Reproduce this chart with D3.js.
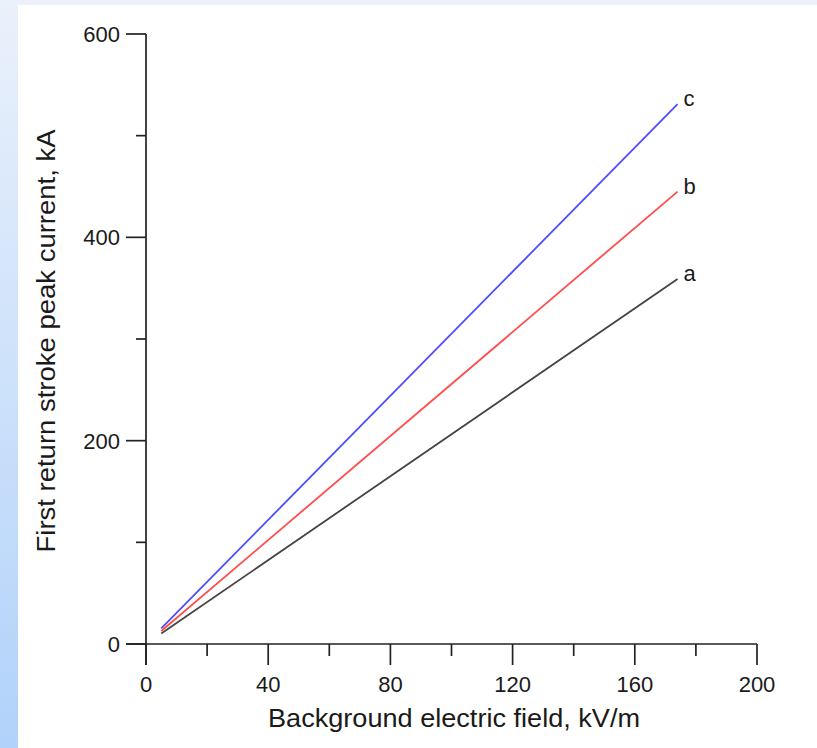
<!DOCTYPE html>
<html>
<head>
<meta charset="utf-8">
<script src="https://cdn.jsdelivr.net/npm/d3@7"></script>
<style>
  body { margin: 0; padding: 0; }
  svg text { font-family: "Liberation Sans", Arial, sans-serif; fill: #1a1a1a; }
</style>
</head>
<body>
<div id="chart"></div>
<script>
// data
const fieldValues = [5, 174];            // kV/m
const curveA = [10.3, 359];              // kA
const curveB = [12.8, 445];
const curveC = [15.3, 531];
const curveNames = ["a", "b", "c"];
const curveColors = ["#444444", "#ff4d4d", "#4d4dff"];
const xTicks = [0, 40, 80, 120, 160, 200];
const xMinor = [20, 60, 100, 140, 180];
const yTicks = [0, 200, 400, 600];
const yMinor = [100, 300, 500];

const W = 817, H = 748;
const margin = {top: 34, right: 60, bottom: 104, left: 146};

const svg = d3.select("#chart")
    .append("svg")
    .attr("width", W)
    .attr("height", H);

// page background with the bluish edges
const defs = svg.append("defs");
const grad = defs.append("linearGradient")
    .attr("id", "edge")
    .attr("x1", 0).attr("y1", 0).attr("x2", 0).attr("y2", 1);
grad.append("stop").attr("offset", "0%").attr("stop-color", "#eaf1fb");
grad.append("stop").attr("offset", "100%").attr("stop-color", "#b1d2fa");

svg.append("rect").attr("width", W).attr("height", H).attr("fill", "#edf2fa");
svg.append("rect").attr("width", 18).attr("height", H).attr("fill", "url(#edge)");
svg.append("rect").attr("x", 18).attr("y", 5).attr("width", W - 18).attr("height", H - 5).attr("fill", "#ffffff");

const x = d3.scaleLinear().domain([0, 200]).range([margin.left, 757]);
const y = d3.scaleLinear().domain([0, 600]).range([644, margin.top]);

const axisColor = "#222";

// x axis
const xAxis = svg.append("g");
xAxis.append("line")
    .attr("x1", 126).attr("x2", x(200))
    .attr("y1", y(0)).attr("y2", y(0))
    .attr("stroke", axisColor).attr("stroke-width", 1.7);
xAxis.selectAll(".xmaj")
    .data(xTicks)
    .enter().append("line")
    .attr("x1", d => x(d)).attr("x2", d => x(d))
    .attr("y1", y(0)).attr("y2", y(0) + 21)
    .attr("stroke", axisColor).attr("stroke-width", 1.7);
xAxis.selectAll(".xmin")
    .data(xMinor)
    .enter().append("line")
    .attr("x1", d => x(d)).attr("x2", d => x(d))
    .attr("y1", y(0)).attr("y2", y(0) + 12)
    .attr("stroke", axisColor).attr("stroke-width", 1.7);
xAxis.selectAll(".xlab")
    .data(xTicks)
    .enter().append("text")
    .attr("x", d => x(d))
    .attr("y", 692)
    .attr("text-anchor", "middle")
    .style("font-size", "22px")
    .text(d => d);

// y axis
const yAxis = svg.append("g");
yAxis.append("line")
    .attr("x1", x(0)).attr("x2", x(0))
    .attr("y1", y(600)).attr("y2", y(0) + 21)
    .attr("stroke", axisColor).attr("stroke-width", 1.7);
yAxis.selectAll(".ymaj")
    .data(yTicks)
    .enter().append("line")
    .attr("x1", x(0) - 20).attr("x2", x(0))
    .attr("y1", d => y(d)).attr("y2", d => y(d))
    .attr("stroke", axisColor).attr("stroke-width", 1.7);
yAxis.selectAll(".ymin")
    .data(yMinor)
    .enter().append("line")
    .attr("x1", x(0) - 10).attr("x2", x(0))
    .attr("y1", d => y(d)).attr("y2", d => y(d))
    .attr("stroke", axisColor).attr("stroke-width", 1.7);
yAxis.selectAll(".ylab")
    .data(yTicks)
    .enter().append("text")
    .attr("x", x(0) - 26)
    .attr("y", d => y(d) + 8)
    .attr("text-anchor", "end")
    .style("font-size", "22px")
    .text(d => d);

// axis titles
svg.append("text")
    .attr("x", 454)
    .attr("y", 727)
    .attr("text-anchor", "middle")
    .attr("textLength", 372)
    .attr("lengthAdjust", "spacingAndGlyphs")
    .style("font-size", "25px")
    .text("Background electric field, kV/m");

svg.append("text")
    .attr("transform", "translate(55,341) rotate(-90)")
    .attr("text-anchor", "middle")
    .attr("textLength", 423)
    .attr("lengthAdjust", "spacingAndGlyphs")
    .style("font-size", "25px")
    .text("First return stroke peak current, kA");

// curves
const curves = [curveA, curveB, curveC];
const line = d3.line()
    .x((d, i) => x(fieldValues[i]))
    .y(d => y(d));

curves.forEach(function (c, i) {
    svg.append("path")
        .datum(c)
        .attr("d", line)
        .attr("fill", "none")
        .attr("stroke", curveColors[i])
        .attr("stroke-width", 1.8);
    svg.append("text")
        .attr("x", x(fieldValues[1]) + 6)
        .attr("y", y(c[1]) + 2)
        .style("font-size", "22px")
        .text(curveNames[i]);
});
</script>
</body>
</html>
